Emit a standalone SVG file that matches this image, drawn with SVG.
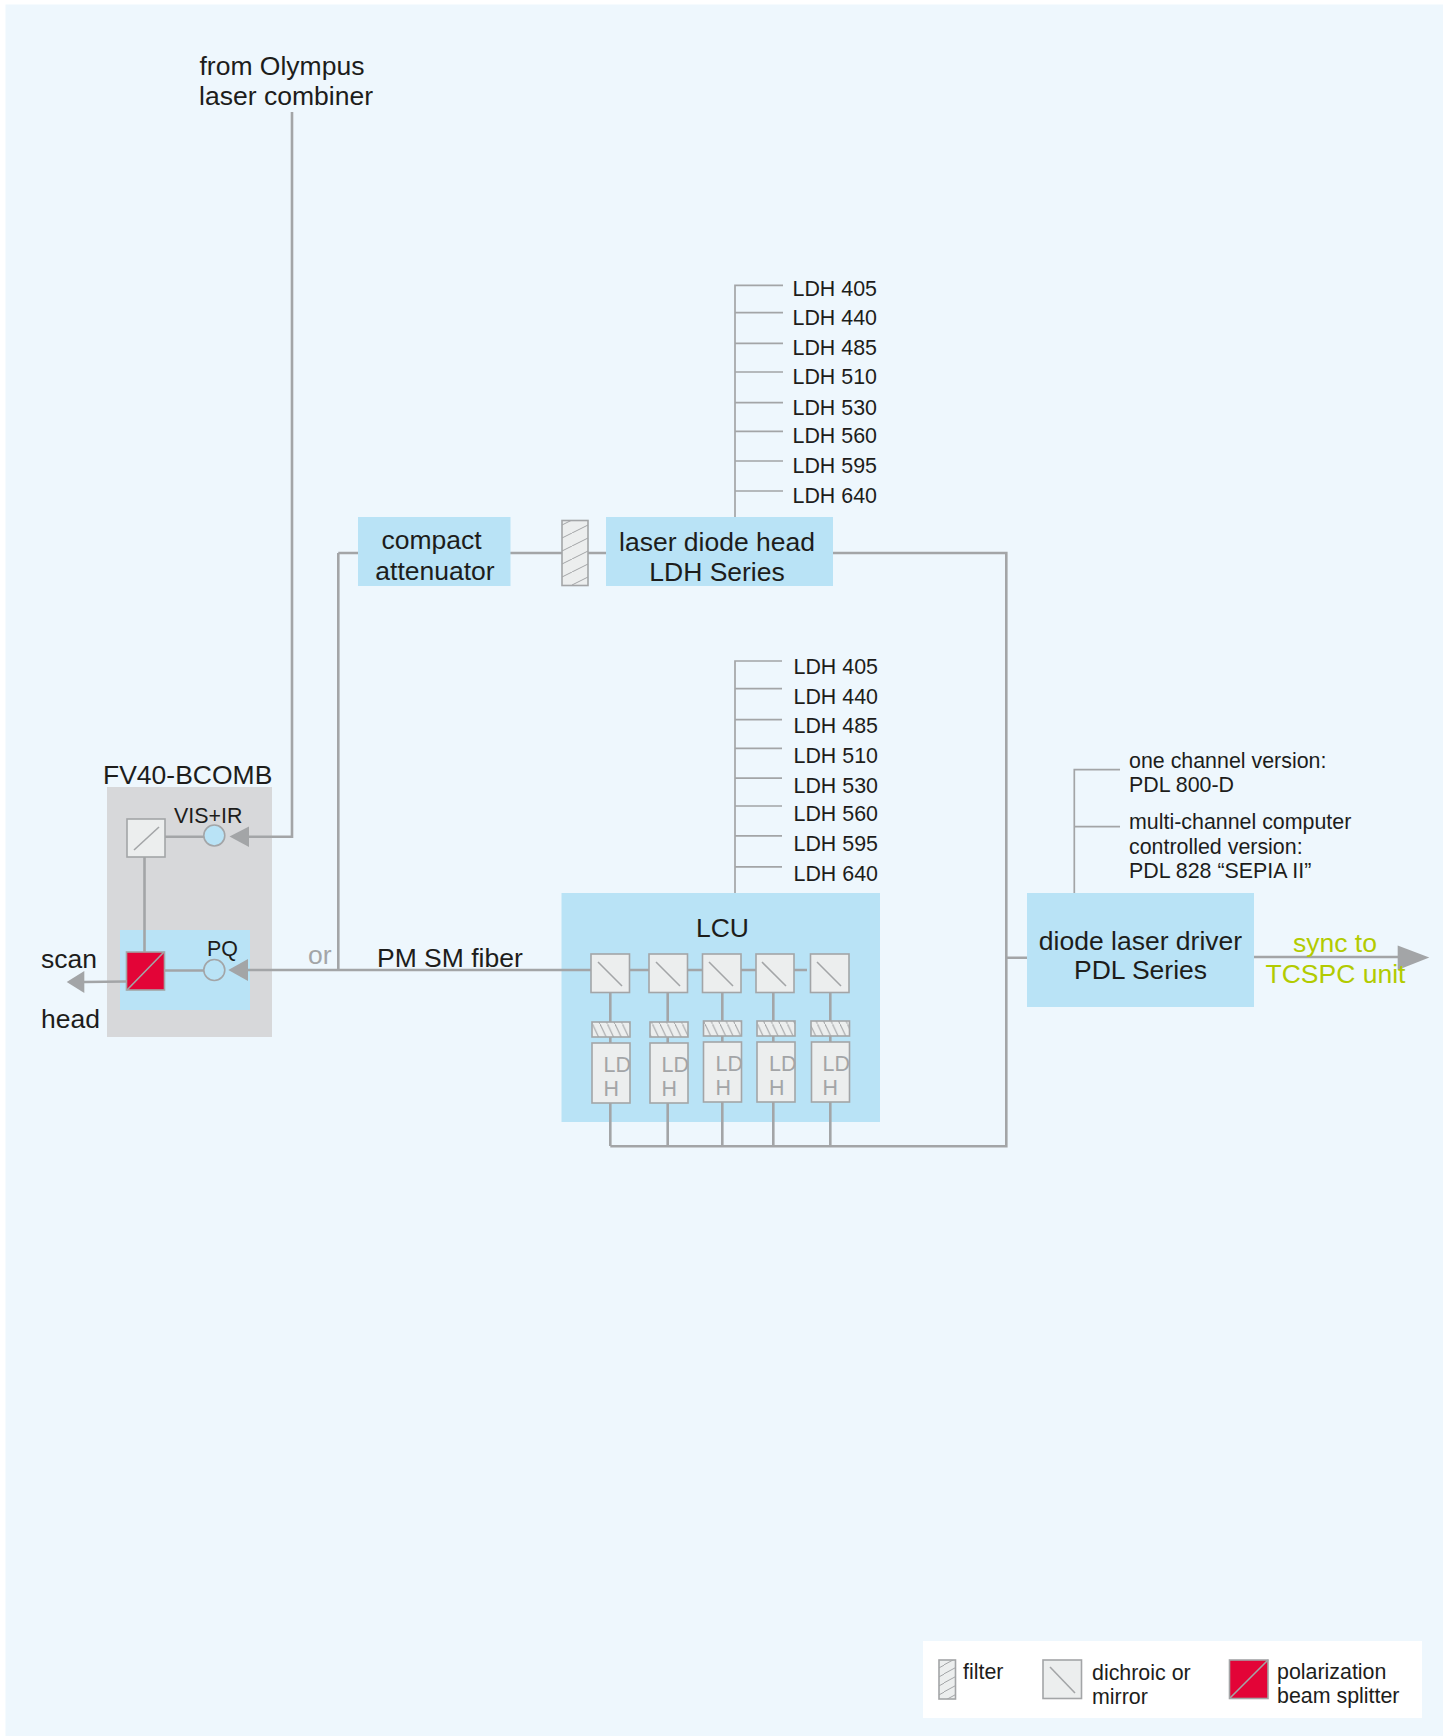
<svg xmlns="http://www.w3.org/2000/svg" width="1450" height="1736" viewBox="0 0 1450 1736">
<style>
text{font-family:"Liberation Sans",Arial,sans-serif;fill:#1d1d1b;font-size:21.400px}
.l{font-size:26.500px}
.m{text-anchor:middle}
.g{fill:#a3a5a7}
.y{fill:#b2cb00}
.c{fill:none;stroke:#a3a5a7;stroke-width:2.600}
.t{fill:none;stroke:#a3a5a7;stroke-width:1.700}
.bx{fill:#b9e3f6}
.sq{fill:#eceeee;stroke:#a3a5a7;stroke-width:1.600}
.rd{fill:#e30437;stroke:#a3a5a7;stroke-width:1.600}
.d{stroke:#a3a5a7;stroke-width:1.600;fill:none}
.a{fill:#a3a5a7}
.cb{fill:#b9e3f6;stroke:#a3a5a7;stroke-width:1.600}
.ph{fill:url(#hv);stroke:#a3a5a7;stroke-width:1.600}
.pg{fill:url(#hs);stroke:#a3a5a7;stroke-width:1.600}
.pl{fill:url(#hl);stroke:#a3a5a7;stroke-width:1.600}
</style>
<defs>
<pattern id="hv" width="26" height="13" patternUnits="userSpaceOnUse">
<rect width="26" height="13" fill="#eceeee"/>
<path d="M-4 15L30 -2" stroke="#a3a5a7" stroke-width="1" fill="none"/>
</pattern>
<pattern id="hs" width="16" height="9" patternUnits="userSpaceOnUse">
<rect width="16" height="9" fill="#eceeee"/>
<path d="M-4 11L20 -2" stroke="#a3a5a7" stroke-width="1" fill="none"/>
</pattern>
<pattern id="hl" width="7.500" height="16" patternUnits="userSpaceOnUse">
<rect width="7.500" height="16" fill="#eceeee"/>
<path d="M0 0L7.500 16" stroke="#a3a5a7" stroke-width="1" fill="none"/>
</pattern>
</defs>
<rect x="5.500" y="4.500" width="1437.500" height="1732" fill="#eef7fd"/>

<g id="fv40-bcomb"><rect x="107" y="787" width="165" height="250" fill="#d7d8da"/><text class="l" x="103" y="784">FV40-BCOMB</text></g>
<g id="pq-block"><rect class="bx" x="120" y="930" width="130" height="80"/></g>
<g id="lcu"><rect class="bx" x="561.500" y="893" width="318.500" height="229"/><text class="l m" x="722.500" y="937">LCU</text></g>

<g id="connectors">
<path class="c" d="M292 112V836.700H248"/>
<path class="c" d="M165 836.700H204"/>
<path class="c" d="M144.500 857V952"/>
<path class="c" d="M164 970.500H204"/>
<path class="c" d="M338.300 553V970M248 970H592"/>
<path class="c" d="M126 981.500L84 982"/>
<path class="c" d="M358 553H338.300M510 553H562M588 553H606M833 553H1006.300V1146.300H610.300"/>
<path class="c" d="M1006.300 957.700H1027M1254 957H1398"/>
<path class="c" d="M630 970H649M688 970H702M741 970H756M794 970H807"/>
<path class="c" d="M610.300 992V1022M667.700 992V1022M722.300 992V1021M773.300 992V1021M830.300 992V1021"/>
<path class="c" d="M610.300 1037V1043M667.700 1037V1043M722.300 1036V1042M773.300 1036V1042M830.300 1036V1042"/>
<path class="c" d="M610.300 1103V1146M667.700 1103V1146M722.300 1102V1146M773.300 1102V1146M830.300 1102V1146"/>
<path class="t" d="M735 517V285.300H783M735 312.700H783M735 343.300H783M735 372H783M735 402.700H783M735 431.300H783M735 461H783M735 491H783"/>
<path class="t" d="M735 893V661H782M735 688.600H782M735 719.600H782M735 748.400H782M735 778.200H782M735 806H782M735 835.800H782M735 866.800H782"/>
<path class="t" d="M1074.300 893V769.700H1120M1074.300 826.700H1120"/>
<polygon class="a" points="229.500,836.500 249,826.500 249,847"/>
<polygon class="a" points="228.300,970 248,959 248,981"/>
<polygon class="a" points="66.700,982 84.300,971 84.300,993"/>
<polygon class="a" points="1429.300,957.500 1397.700,945.500 1397.700,970"/>
</g>

<g id="text-from"><text class="l" x="199.500" y="75">from Olympus</text><text class="l" x="199" y="105" textLength="174" lengthAdjust="spacingAndGlyphs">laser combiner</text></g>
<g id="dichroic-vis"><rect class="sq" x="127" y="819" width="38" height="38"/><path class="d" d="M134 850L159 827"/></g>
<g id="coupler-vis"><circle class="cb" cx="214.300" cy="835.500" r="10.500"/><text x="174" y="823">VIS+IR</text></g>
<g id="pbs"><rect class="rd" x="126.500" y="952" width="38" height="38"/><path class="d" d="M127 990L164 952"/></g>
<g id="coupler-pq"><circle class="cb" cx="214.300" cy="970" r="10.500"/><text x="207" y="956">PQ</text></g>
<g id="scan-head"><text class="l" x="41" y="968">scan</text><text class="l" x="41" y="1028">head</text></g>
<g id="fiber-labels"><text class="l g" x="308" y="964">or</text><text class="l" x="377" y="967">PM SM fiber</text></g>

<g id="attenuator"><rect class="bx" x="358" y="517" width="152.500" height="69"/><text class="l m" x="431.500" y="549">compact</text><text class="l m" x="435" y="580">attenuator</text></g>
<g id="filter-main"><rect class="ph" x="562" y="520.500" width="26" height="65"/></g>
<g id="laser-head"><rect class="bx" x="606" y="517" width="227" height="69"/><text class="l m" x="717" y="551">laser diode head</text><text class="l m" x="717" y="581">LDH Series</text></g>

<g id="ldh-list-upper">
<text x="792.500" y="296">LDH 405</text><text x="792.500" y="325">LDH 440</text><text x="792.500" y="355">LDH 485</text><text x="792.500" y="384">LDH 510</text><text x="792.500" y="415">LDH 530</text><text x="792.500" y="443">LDH 560</text><text x="792.500" y="473">LDH 595</text><text x="792.500" y="503">LDH 640</text>
</g>
<g id="ldh-list-lower">
<text x="793.500" y="674">LDH 405</text><text x="793.500" y="704">LDH 440</text><text x="793.500" y="733">LDH 485</text><text x="793.500" y="763">LDH 510</text><text x="793.500" y="793">LDH 530</text><text x="793.500" y="821">LDH 560</text><text x="793.500" y="851">LDH 595</text><text x="793.500" y="881">LDH 640</text>
</g>

<g id="lcu-channel-1"><rect class="sq" x="591" y="954" width="38.500" height="38.500"/><path class="d" d="M598 962L622 986"/><rect class="pl" x="592" y="1022" width="38" height="15"/><rect class="sq" x="592" y="1043" width="38" height="60"/><text class="g" x="603.500" y="1072">LD</text><text class="g" x="603.500" y="1096">H</text></g>
<g id="lcu-channel-2"><rect class="sq" x="649" y="954" width="38.500" height="38.500"/><path class="d" d="M656 962L680 986"/><rect class="pl" x="650" y="1022" width="38" height="15"/><rect class="sq" x="650" y="1043" width="38" height="60"/><text class="g" x="661.500" y="1072">LD</text><text class="g" x="661.500" y="1096">H</text></g>
<g id="lcu-channel-3"><rect class="sq" x="702.500" y="954" width="38.500" height="38.500"/><path class="d" d="M709 962L733 986"/><rect class="pl" x="703.500" y="1021" width="38" height="15"/><rect class="sq" x="703.500" y="1042" width="38" height="60"/><text class="g" x="715.500" y="1071">LD</text><text class="g" x="715.500" y="1095">H</text></g>
<g id="lcu-channel-4"><rect class="sq" x="756" y="954" width="38" height="38.500"/><path class="d" d="M762 962L786 986"/><rect class="pl" x="757" y="1021" width="38" height="15"/><rect class="sq" x="757" y="1042" width="38" height="60"/><text class="g" x="769" y="1071">LD</text><text class="g" x="769" y="1095">H</text></g>
<g id="lcu-channel-5"><rect class="sq" x="810.500" y="954" width="38.500" height="38.500"/><path class="d" d="M817 962L841 986"/><rect class="pl" x="811" y="1021" width="38.500" height="15"/><rect class="sq" x="811.500" y="1042" width="38" height="60"/><text class="g" x="822.500" y="1071">LD</text><text class="g" x="822.500" y="1095">H</text></g>

<g id="driver-versions"><text x="1129" y="768">one channel version:</text><text x="1129" y="792">PDL 800-D</text><text x="1129" y="829">multi-channel computer</text><text x="1129" y="854">controlled version:</text><text x="1129" y="878">PDL 828 “SEPIA II”</text></g>
<g id="driver"><rect class="bx" x="1027" y="893" width="227" height="114"/><text class="l m" x="1140.500" y="950">diode laser driver</text><text class="l m" x="1140.500" y="979">PDL Series</text></g>
<g id="sync"><text class="l y m" x="1335" y="952">sync to</text><text class="l y m" x="1335.500" y="983">TCSPC unit</text></g>

<g id="legend">
<rect x="923" y="1641" width="499" height="77" fill="#fff"/>
<rect class="pg" x="939" y="1660" width="16.500" height="39"/><text x="963" y="1679">filter</text>
<rect class="sq" x="1043" y="1660" width="38.500" height="38.500"/><path class="d" d="M1050 1667L1075 1693"/><text x="1092" y="1680">dichroic or</text><text x="1092" y="1704">mirror</text>
<rect class="rd" x="1229.500" y="1660" width="38.500" height="38.500"/><path class="d" d="M1229.500 1698.500L1268 1660"/><text x="1277" y="1679">polarization</text><text x="1277" y="1703">beam splitter</text>
</g>
</svg>
